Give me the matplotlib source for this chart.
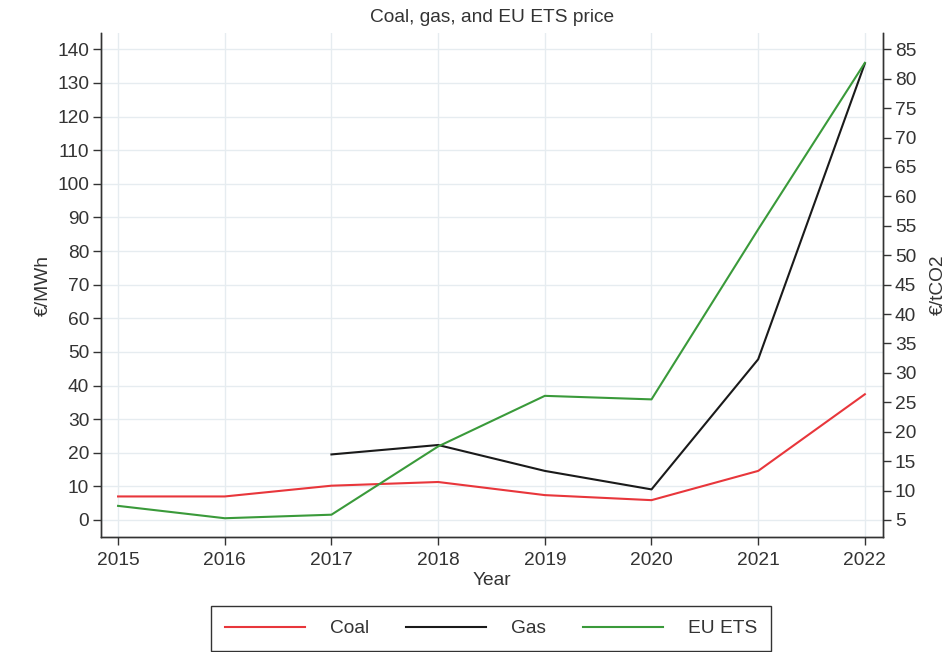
import matplotlib
matplotlib.use("Agg")
import matplotlib.pyplot as plt

plt.rcParams['font.family'] = ['Liberation Sans', 'DejaVu Sans']

# Annual average prices
years = [2015, 2016, 2017, 2018, 2019, 2020, 2021, 2022]
coal = [7.0, 7.0, 10.2, 11.3, 7.4, 5.9, 14.6, 37.4]          # €/MWh
gas_years = [2017, 2018, 2019, 2020, 2021, 2022]
gas = [19.5, 22.3, 14.6, 9.1, 47.8, 135.8]                   # €/MWh
ets = [7.4, 5.3, 5.9, 17.5, 26.1, 25.5, 54.4, 82.7]          # €/tCO2

left_ticks = list(range(0, 141, 10))
right_ticks = list(range(5, 86, 5))

FS = 13.8
TXT = '#333333'
SPINE = '#333333'
GRID = '#e6ecf0'

fig = plt.figure(figsize=(9.48, 6.52), dpi=100)
W, H = 948, 652
ax = fig.add_axes([101 / W, 1 - 537 / H, (883 - 101) / W, (537 - 33) / H])
ax2 = ax.twinx()

ax.set_xlim(2014.84, 2022.17)
ax.set_ylim(-5.06, 144.85)
ax2.set_ylim(2.11, 87.77)

ax.set_xticks(years)
ax.set_yticks(left_ticks)
ax2.set_yticks(right_ticks)

ax.grid(True, color=GRID, linewidth=1.0)
ax.set_axisbelow(True)

l1, = ax.plot(years, coal, color='#e8363b', lw=1.5, label='Coal')
l2, = ax.plot(gas_years, gas, color='#1a1a1a', lw=1.5, label='Gas')
l3, = ax2.plot(years, ets, color='#3a9a3a', lw=1.5, label='EU ETS')

for a in (ax, ax2):
    a.spines['top'].set_visible(False)
    for s in ('left', 'right', 'bottom'):
        a.spines[s].set_color(SPINE)
        a.spines[s].set_linewidth(1.0)
    a.tick_params(axis='both', direction='out', length=5.5, width=1.0,
                  colors=SPINE, labelcolor=TXT, labelsize=FS, pad=3)
ax.tick_params(axis='x', pad=5)

ax.set_title('Coal, gas, and EU ETS price', fontsize=FS, color=TXT, pad=8)
ax.set_xlabel('Year', fontsize=FS, color=TXT, labelpad=2.5)
ax.set_ylabel('€/MWh', fontsize=FS, color=TXT, labelpad=4)
ax2.set_ylabel('€/tCO2', fontsize=FS, color=TXT, rotation=90, labelpad=10)

leg = fig.legend(handles=[l1, l2, l3], loc='center',
                 bbox_to_anchor=(491 / W, 1 - 628.5 / H), ncol=3,
                 fontsize=FS, frameon=True, fancybox=False,
                 edgecolor='#333333', framealpha=1.0,
                 handlelength=4.2, handletextpad=1.3, columnspacing=1.9,
                 borderpad=0.72)
leg.get_frame().set_linewidth(1.0)
for t in leg.get_texts():
    t.set_color(TXT)

fig.savefig('out.png', dpi=100)
